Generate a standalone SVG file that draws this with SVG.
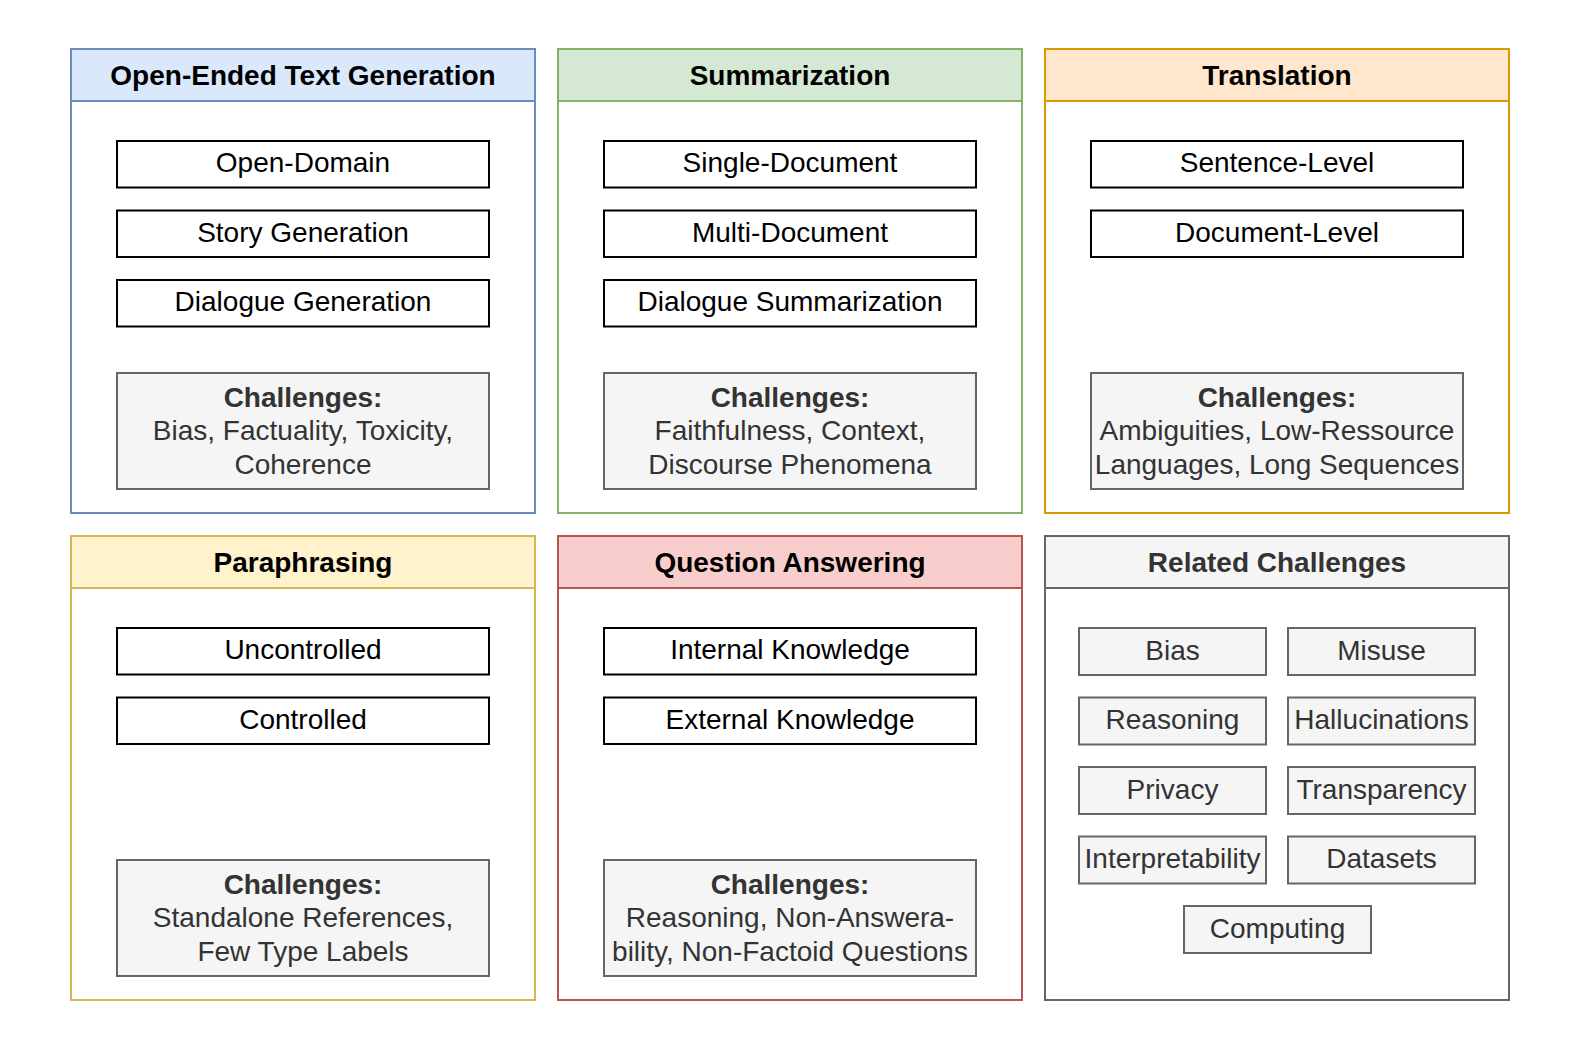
<svg xmlns="http://www.w3.org/2000/svg" width="1578" height="1043" viewBox="0 0 1578 1043">
<style>
  text { font-family: "Liberation Sans", Arial, Helvetica, sans-serif; font-size: 28px; text-anchor: middle; }
  .hdr { font-weight: bold; fill: #000; }
  .hdr-gray { font-weight: bold; fill: #333333; }
  .item rect { fill: #ffffff; stroke: #000000; stroke-width: 2; }
  .item text { fill: #000; }
  .chal rect { fill: #f5f5f5; stroke: #666666; stroke-width: 2; }
  .chal text { fill: #333333; }
  .chal .b { font-weight: bold; }
  .rel rect { fill: #f5f5f5; stroke: #666666; stroke-width: 2; }
  .rel text { fill: #333333; }
  .panel .body { fill: #ffffff; stroke-width: 2; }
  .panel .head { stroke-width: 2; }
  .blue .body, .blue .head { stroke: #6c8ebf; } .blue .head { fill: #dae8fc; }
  .green .body, .green .head { stroke: #82b366; } .green .head { fill: #d5e8d4; }
  .orange .body, .orange .head { stroke: #d79b00; } .orange .head { fill: #ffe6cc; }
  .yellow .body, .yellow .head { stroke: #d6b656; } .yellow .head { fill: #fff2cc; }
  .red .body, .red .head { stroke: #b85450; } .red .head { fill: #f8cecc; }
  .gray .body, .gray .head { stroke: #666666; } .gray .head { fill: #f5f5f5; }
</style>
<rect width="1578" height="1043" fill="#ffffff"/>

<!-- Panel 1 -->
<g id="panel-open-ended" class="panel blue">
  <rect class="body" x="71" y="49" width="464" height="464"/>
  <rect class="head" x="71" y="49" width="464" height="52"/>
  <text class="hdr" x="303" y="84.5">Open-Ended Text Generation</text>
</g>
<g id="oe-open-domain" class="item"><rect x="117" y="141" width="372" height="46.5"/><text x="303" y="172">Open-Domain</text></g>
<g id="oe-story" class="item"><rect x="117" y="210.5" width="372" height="46.5"/><text x="303" y="241.5">Story Generation</text></g>
<g id="oe-dialogue" class="item"><rect x="117" y="280" width="372" height="46.5"/><text x="303" y="311">Dialogue Generation</text></g>
<g id="oe-challenges" class="chal"><rect x="117" y="373" width="372" height="116"/>
  <text class="b" x="303" y="406.5">Challenges:</text>
  <text x="303" y="440">Bias, Factuality, Toxicity,</text>
  <text x="303" y="473.5">Coherence</text>
</g>

<!-- Panel 2 -->
<g id="panel-summarization" class="panel green">
  <rect class="body" x="558" y="49" width="464" height="464"/>
  <rect class="head" x="558" y="49" width="464" height="52"/>
  <text class="hdr" x="790" y="84.5">Summarization</text>
</g>
<g id="sum-single" class="item"><rect x="604" y="141" width="372" height="46.5"/><text x="790" y="172">Single-Document</text></g>
<g id="sum-multi" class="item"><rect x="604" y="210.5" width="372" height="46.5"/><text x="790" y="241.5">Multi-Document</text></g>
<g id="sum-dialogue" class="item"><rect x="604" y="280" width="372" height="46.5"/><text x="790" y="311">Dialogue Summarization</text></g>
<g id="sum-challenges" class="chal"><rect x="604" y="373" width="372" height="116"/>
  <text class="b" x="790" y="406.5">Challenges:</text>
  <text x="790" y="440">Faithfulness, Context,</text>
  <text x="790" y="473.5">Discourse Phenomena</text>
</g>

<!-- Panel 3 -->
<g id="panel-translation" class="panel orange">
  <rect class="body" x="1045" y="49" width="464" height="464"/>
  <rect class="head" x="1045" y="49" width="464" height="52"/>
  <text class="hdr" x="1277" y="84.5">Translation</text>
</g>
<g id="tr-sentence" class="item"><rect x="1091" y="141" width="372" height="46.5"/><text x="1277" y="172">Sentence-Level</text></g>
<g id="tr-document" class="item"><rect x="1091" y="210.5" width="372" height="46.5"/><text x="1277" y="241.5">Document-Level</text></g>
<g id="tr-challenges" class="chal"><rect x="1091" y="373" width="372" height="116"/>
  <text class="b" x="1277" y="406.5">Challenges:</text>
  <text x="1277" y="440">Ambiguities, Low-Ressource</text>
  <text x="1277" y="473.5">Languages, Long Sequences</text>
</g>

<!-- Panel 4 -->
<g id="panel-paraphrasing" class="panel yellow">
  <rect class="body" x="71" y="536" width="464" height="464"/>
  <rect class="head" x="71" y="536" width="464" height="52"/>
  <text class="hdr" x="303" y="571.5">Paraphrasing</text>
</g>
<g id="pa-uncontrolled" class="item"><rect x="117" y="628" width="372" height="46.5"/><text x="303" y="659">Uncontrolled</text></g>
<g id="pa-controlled" class="item"><rect x="117" y="697.5" width="372" height="46.5"/><text x="303" y="728.5">Controlled</text></g>
<g id="pa-challenges" class="chal"><rect x="117" y="860" width="372" height="116"/>
  <text class="b" x="303" y="893.5">Challenges:</text>
  <text x="303" y="927">Standalone References,</text>
  <text x="303" y="960.5">Few Type Labels</text>
</g>

<!-- Panel 5 -->
<g id="panel-qa" class="panel red">
  <rect class="body" x="558" y="536" width="464" height="464"/>
  <rect class="head" x="558" y="536" width="464" height="52"/>
  <text class="hdr" x="790" y="571.5">Question Answering</text>
</g>
<g id="qa-internal" class="item"><rect x="604" y="628" width="372" height="46.5"/><text x="790" y="659">Internal Knowledge</text></g>
<g id="qa-external" class="item"><rect x="604" y="697.5" width="372" height="46.5"/><text x="790" y="728.5">External Knowledge</text></g>
<g id="qa-challenges" class="chal"><rect x="604" y="860" width="372" height="116"/>
  <text class="b" x="790" y="893.5">Challenges:</text>
  <text x="790" y="927">Reasoning, Non-Answera-</text>
  <text x="790" y="960.5">bility, Non-Factoid Questions</text>
</g>

<!-- Panel 6 -->
<g id="panel-related" class="panel gray">
  <rect class="body" x="1045" y="536" width="464" height="464"/>
  <rect class="head" x="1045" y="536" width="464" height="52"/>
  <text class="hdr-gray" x="1277" y="571.5">Related Challenges</text>
</g>
<g id="rc-bias" class="rel"><rect x="1079" y="628" width="187" height="47"/><text x="1172.5" y="659.5">Bias</text></g>
<g id="rc-misuse" class="rel"><rect x="1288" y="628" width="187" height="47"/><text x="1381.5" y="659.5">Misuse</text></g>
<g id="rc-reasoning" class="rel"><rect x="1079" y="697.5" width="187" height="47"/><text x="1172.5" y="729">Reasoning</text></g>
<g id="rc-hallucinations" class="rel"><rect x="1288" y="697.5" width="187" height="47"/><text x="1381.5" y="729">Hallucinations</text></g>
<g id="rc-privacy" class="rel"><rect x="1079" y="767" width="187" height="47"/><text x="1172.5" y="798.5">Privacy</text></g>
<g id="rc-transparency" class="rel"><rect x="1288" y="767" width="187" height="47"/><text x="1381.5" y="798.5">Transparency</text></g>
<g id="rc-interpretability" class="rel"><rect x="1079" y="836.5" width="187" height="47"/><text x="1172.5" y="868">Interpretability</text></g>
<g id="rc-datasets" class="rel"><rect x="1288" y="836.5" width="187" height="47"/><text x="1381.5" y="868">Datasets</text></g>
<g id="rc-computing" class="rel"><rect x="1184" y="906" width="187" height="47"/><text x="1277.5" y="937.5">Computing</text></g>

<g id="connectors"></g>
</svg>
